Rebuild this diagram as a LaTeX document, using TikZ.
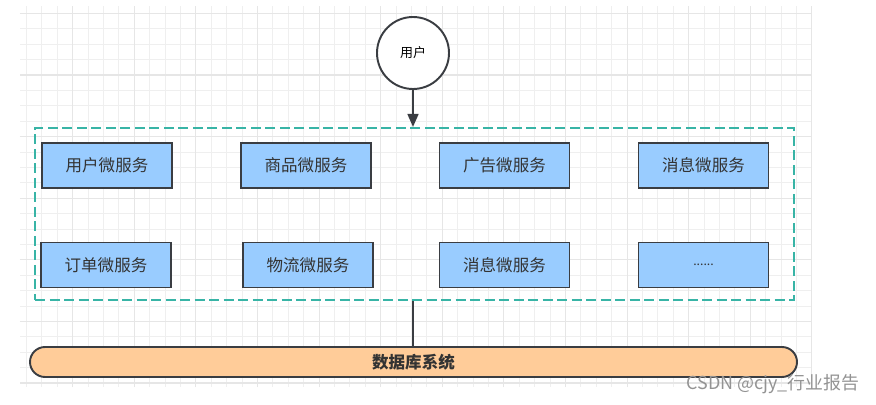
\documentclass[tikz,border=0pt]{standalone}
\usepackage{fontspec}
\setmainfont{Noto Sans CJK SC}
\usepackage{tikz}
\usetikzlibrary{arrows.meta}
\newcommand{\svcfont}{\fontsize{9.4}{11}\selectfont}

\begin{document}
\begin{tikzpicture}[
		svcbox/.style={draw=boxline,line width=1.1pt,fill=boxblue,text=txtgray,minimum width=2.6cm,minimum height=0.9cm,font=\svcfont},
		conn/.style={draw=boxline,line width=0.9pt}]
					\definecolor{boxblue}{HTML}{99CCFF}
					\definecolor{boxline}{HTML}{3A3D42}
					\definecolor{txtgray}{HTML}{333333}
					\definecolor{dbfill}{HTML}{FFCC99}
					\definecolor{tealdash}{HTML}{38B4A6}
					\definecolor{gridminor}{HTML}{EFEFEF}
					\definecolor{gridmajor}{HTML}{E6E6E6}
					\useasboundingbox (0,0) rectangle (17.52,8.08);
					
					% grid
					\begin{scope}[shift={(1.454,6.58)}]
						\draw[gridminor,line width=0.5pt,step=0.308] (-1.054,-6.24) grid (14.786,1.38);
						\draw[gridmajor,line width=0.6pt,step=1.232] (-1.054,-6.24) grid (14.786,1.38);
					\end{scope}
					
					% user
					\node[draw=boxline,line width=1.1pt,circle,fill=white,minimum size=1.44cm,font=\fontsize{7.4}{9}\selectfont] (user) at (8.26,7.02) {用户};
					
					% services
					\node[draw=tealdash,line width=1.2pt,dash pattern=on 2mm off 0.9mm,minimum width=15.18cm,minimum height=3.44cm] (svc) at (8.29,3.80) {};
					\node[svcbox] (yonghu) at (2.14,4.77) {用户微服务};
					\node[svcbox] (shangpin) at (6.12,4.77) {商品微服务};
					\node[svcbox] (guanggao) at (10.09,4.77) {广告微服务};
					\node[svcbox] (xiaoxi) at (14.07,4.77) {消息微服务};
					\node[svcbox] (dingdan) at (2.12,2.78) {订单微服务};
					\node[svcbox] (wuliu) at (6.16,2.78) {物流微服务};
					\node[svcbox] (xiaoxib) at (10.09,2.78) {消息微服务};
					\node[svcbox,font=\fontsize{7}{9}\selectfont] (more) at (14.07,2.78) {......};
					
					% database
					\node[draw=boxline,line width=1.1pt,fill=dbfill,rounded corners=0.3cm,minimum width=15.34cm,minimum height=0.6cm,text=txtgray,font=\svcfont\bfseries] (db) at (8.27,0.84) {数据库系统};
					
					\draw[conn,-{Triangle[length=2.6mm,width=2.2mm]}] (user) -- (user |- svc.north);
					\draw[conn] (user |- svc.south) -- (user |- db.north);
					
					% watermark
					\node[anchor=east,text=gray!85,font=\fontsize{10.2}{12}\selectfont,inner sep=0pt] (mark) at (17.2,0.4) {CSDN @cjy\_行业报告};
				\end{tikzpicture}
\end{document}
